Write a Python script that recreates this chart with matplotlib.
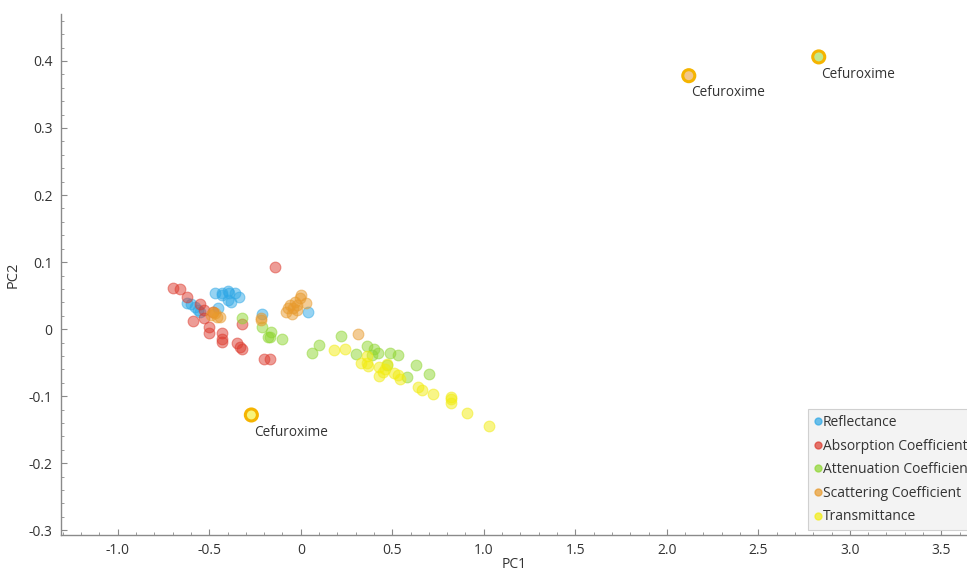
import numpy as np
import matplotlib
matplotlib.use("Agg")
import matplotlib.pyplot as plt
from matplotlib.ticker import MultipleLocator, FuncFormatter
from matplotlib.lines import Line2D

########################### data ############################

refl_pc1 = [-0.47, -0.43, -0.40, -0.39, -0.36, -0.34, -0.38, -0.40, -0.43, -0.62,
            -0.60, -0.58, -0.56, -0.55, -0.45, -0.21, 0.04]
refl_pc2 = [0.054, 0.054, 0.057, 0.054, 0.054, 0.048, 0.040, 0.044, 0.051, 0.039,
            0.038, 0.033, 0.029, 0.025, 0.032, 0.023, 0.025]

abs_pc1 = [-0.14, -0.70, -0.66, -0.62, -0.55, -0.53, -0.53, -0.59, -0.48, -0.32,
           -0.50, -0.50, -0.43, -0.43, -0.43, -0.35, -0.33, -0.32, -0.20, -0.17]
abs_pc2 = [0.093, 0.061, 0.060, 0.048, 0.037, 0.028, 0.016, 0.012, 0.025, 0.007,
           0.003, -0.006, -0.006, -0.014, -0.019, -0.021, -0.027, -0.030, -0.044, -0.044]

att_pc1 = [-0.32, -0.21, -0.16, -0.18, -0.17, -0.10, 0.06, 0.10, 0.22, 0.30,
           0.36, 0.40, 0.42, 0.39, 0.49, 0.53, 0.47, 0.58, 0.63, 0.70]
att_pc2 = [0.016, 0.003, -0.004, -0.011, -0.012, -0.015, -0.035, -0.024, -0.010, -0.037,
           -0.025, -0.030, -0.035, -0.038, -0.036, -0.038, -0.054, -0.071, -0.054, -0.067]

scat_pc1 = [-0.48, -0.49, -0.46, -0.44, -0.47, -0.22, -0.22, 0.00, -0.005, 0.03,
            -0.03, -0.06, -0.07, -0.04, -0.08, -0.05, -0.02, -0.02, 0.31]
scat_pc2 = [0.025, 0.021, 0.018, 0.018, 0.024, 0.013, 0.016, 0.051, 0.046, 0.039,
            0.040, 0.036, 0.031, 0.031, 0.025, 0.022, 0.028, 0.036, -0.007]

trans_pc1 = [0.18, 0.24, 0.36, 0.33, 0.36, 0.37, 0.43, 0.46, 0.45, 0.47,
             0.43, 0.51, 0.53, 0.54, 0.64, 0.66, 0.72, 0.82, 0.82, 0.82,
             0.91, 1.03]
trans_pc2 = [-0.031, -0.030, -0.040, -0.051, -0.050, -0.055, -0.056, -0.060, -0.064, -0.052,
             -0.070, -0.066, -0.069, -0.075, -0.086, -0.091, -0.097, -0.101, -0.104, -0.110,
             -0.125, -0.144]

# highlighted Cefuroxime samples
hl_series = ["Attenuation Coefficient", "Scattering Coefficient", "Transmittance"]
hl_pc1 = [2.83, 2.12, -0.27]
hl_pc2 = [0.406, 0.378, -0.128]
hl_label = "Cefuroxime"

series_names = ["Reflectance", "Absorption Coefficient", "Attenuation Coefficient",
                "Scattering Coefficient", "Transmittance"]

########################### style ############################

colors = {
    "Reflectance": "#2fa8e6",
    "Absorption Coefficient": "#dd3b2e",
    "Attenuation Coefficient": "#8fd631",
    "Scattering Coefficient": "#e89a2c",
    "Transmittance": "#f2ec10",
}
text_color = "#333333"
axis_color = "#8a8a8a"
marker_size = 60
plt.rcParams['font.family'] = ['Open Sans', 'DejaVu Sans']

########################### plot ############################

fig = plt.figure(figsize=(9.67, 5.71), dpi=100)
ax = fig.add_axes([61 / 967, 36 / 571, 906 / 967, 521 / 571])

data = [(refl_pc1, refl_pc2), (abs_pc1, abs_pc2), (att_pc1, att_pc2),
        (scat_pc1, scat_pc2), (trans_pc1, trans_pc2)]
for name, (xs, ys) in zip(series_names, data):
    ax.scatter(xs, ys, s=marker_size, color=colors[name], alpha=0.5,
               edgecolors=colors[name], linewidths=0.8, zorder=3)

for name, x, y in zip(hl_series, hl_pc1, hl_pc2):
    ax.scatter([x], [y], s=75, color=colors[name], alpha=0.55, zorder=4, linewidths=0)
    ax.scatter([x], [y], s=75, facecolors='none', edgecolors="#f5b400",
               linewidths=2.2, zorder=5)
    ax.annotate(hl_label, (x, y), xytext=(2, -7), textcoords='offset points',
                ha='left', va='top', fontsize=9.8, color=text_color, zorder=6)

ax.set_xlim(-1.31, 3.64)
ax.set_ylim(-0.307, 0.47)

ax.xaxis.set_major_locator(MultipleLocator(0.5))
ax.xaxis.set_minor_locator(MultipleLocator(0.1))
ax.yaxis.set_major_locator(MultipleLocator(0.1))
ax.yaxis.set_minor_locator(MultipleLocator(0.02))


def fmt(v, pos):
    if abs(v) < 1e-9:
        return "0"
    return f"{v:.1f}"


ax.xaxis.set_major_formatter(FuncFormatter(fmt))
ax.yaxis.set_major_formatter(FuncFormatter(fmt))

for side in ['top', 'right']:
    ax.spines[side].set_visible(False)
for side in ['left', 'bottom']:
    ax.spines[side].set_color(axis_color)
    ax.spines[side].set_linewidth(1)

ax.tick_params(axis='both', which='major', direction='in', length=4, width=0.8,
               color=axis_color, labelsize=10, labelcolor=text_color, pad=6)
ax.tick_params(axis='both', which='minor', direction='in', length=2, width=0.6,
               color=axis_color)

ax.set_xlabel("PC1", fontsize=10, color=text_color, labelpad=-1)
ax.set_ylabel("PC2", fontsize=10.5, color=text_color, labelpad=6)

handles = [Line2D([0], [0], marker='o', linestyle='none', markersize=5,
                  markerfacecolor=colors[n], markeredgecolor=colors[n], alpha=0.7)
           for n in series_names]
leg = ax.legend(handles, series_names, loc='lower left',
                bbox_to_anchor=(747 / 906, 5 / 521), fontsize=10,
                frameon=True, fancybox=False, borderpad=0.4, labelspacing=0.62,
                handletextpad=0.05, handlelength=0.6, borderaxespad=0)
frame = leg.get_frame()
frame.set_facecolor("#f3f3f3")
frame.set_edgecolor("#d0d0d0")
frame.set_linewidth(0.8)
frame.set_alpha(1)
for t in leg.get_texts():
    t.set_color(text_color)

fig.savefig("out.png", dpi=100)
